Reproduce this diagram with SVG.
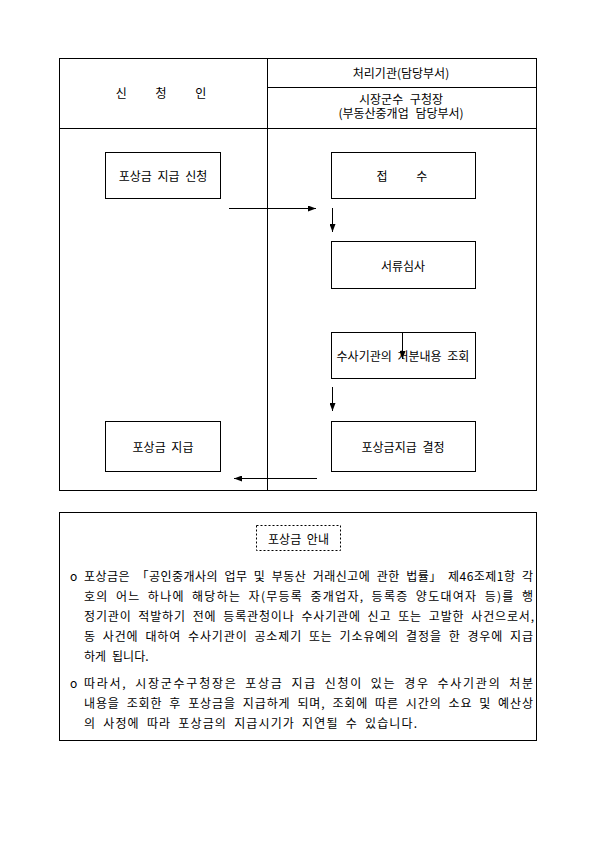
<svg xmlns="http://www.w3.org/2000/svg" width="595" height="842" viewBox="0 0 595 842">
<defs>
<style>
text{font-family:"Noto Sans CJK KR","Noto Sans",sans-serif;font-size:12px;fill:#000;dominant-baseline:central}
.c{text-anchor:middle}
.b{fill:#fff;stroke:#000;stroke-width:1}
.l{stroke:#000;stroke-width:1;fill:none}
.p{word-spacing:3.3px}
</style>
<marker id="ah" viewBox="0 0 8 6" refX="8" refY="3" markerWidth="8" markerHeight="6" orient="auto" markerUnits="userSpaceOnUse">
<path d="M0,0 L8,3 L0,6 z" fill="#000"/>
</marker>
</defs>
<rect width="595" height="842" fill="#fff"/>
<g id="table">
<rect class="b" x="59.5" y="58.5" width="477" height="432"/>
<line class="l" x1="267.5" y1="58.5" x2="267.5" y2="490.5"/>
<line class="l" x1="267.5" y1="87.5" x2="536.5" y2="87.5"/>
<line class="l" x1="59.5" y1="128.5" x2="536.5" y2="128.5"/>
<text class="c" x="161" y="92" style="word-spacing:26px">신 청 인</text>
<text class="c" x="401" y="72.5">처리기관(담당부서)</text>
<text class="c" style="word-spacing:4px"><tspan x="401" y="98">시장군수 구청장</tspan><tspan x="401" y="112">(부동산중개업 담당부서)</tspan></text>
</g>
<g id="n1"><rect class="b" x="105.5" y="152.5" width="115" height="46"/><text class="c" x="163" y="175.5" style="word-spacing:3px">포상금 지급 신청</text></g>
<g id="n2"><rect class="b" x="331.5" y="152.5" width="144" height="46"/><text class="c" x="402" y="175.5" style="word-spacing:26px">접 수</text></g>
<g id="n3"><rect class="b" x="331.5" y="241.5" width="144" height="47"/><text class="c" x="403" y="265">서류심사</text></g>
<g id="n4"><rect class="b" x="331.5" y="332.5" width="144" height="46"/><text class="c" x="403" y="355.5" style="word-spacing:3px">수사기관의 처분내용 조회</text></g>
<g id="n5"><rect class="b" x="331.5" y="421.5" width="144" height="50"/><text class="c" x="403" y="446" style="word-spacing:3px">포상금지급 결정</text></g>
<g id="n6"><rect class="b" x="105.5" y="421.5" width="115" height="50"/><text class="c" x="163" y="446" style="word-spacing:3px">포상금 지급</text></g>
<g id="connectors">
<line class="l" x1="229" y1="208.5" x2="316" y2="208.5" marker-end="url(#ah)"/>
<line class="l" x1="332.5" y1="208" x2="332.5" y2="232" marker-end="url(#ah)"/>
<line class="l" x1="402.5" y1="332" x2="402.5" y2="359" marker-end="url(#ah)"/>
<line class="l" x1="332.5" y1="387" x2="332.5" y2="411" marker-end="url(#ah)"/>
<line class="l" x1="317" y1="478.5" x2="234" y2="478.5" marker-end="url(#ah)"/>
</g>
<g id="notice">
<rect class="b" x="59.5" y="512.5" width="477" height="228"/>
<rect x="256.5" y="525.5" width="84" height="25" fill="none" stroke="#000" stroke-width="1" stroke-dasharray="2 2"/>
<text class="c" x="298.5" y="538" style="word-spacing:3px">포상금 안내</text>
<text x="70" y="575.5">o</text>
<text class="p" x="84" y="575.5" textLength="449" lengthAdjust="spacing">포상금은 「공인중개사의 업무 및 부동산 거래신고에 관한 법률」 제46조제1항 각</text>
<text class="p" x="84" y="595.5" textLength="449" lengthAdjust="spacing">호의 어느 하나에 해당하는 자(무등록 중개업자, 등록증 양도대여자 등)를 행</text>
<text class="p" x="84" y="615.5" textLength="450" lengthAdjust="spacing">정기관이 적발하기 전에 등록관청이나 수사기관에 신고 또는 고발한 사건으로서,</text>
<text class="p" x="84" y="635.5" textLength="449" lengthAdjust="spacing">동 사건에 대하여 수사기관이 공소제기 또는 기소유예의 결정을 한 경우에 지급</text>
<text class="p" x="84" y="655.5">하게 됩니다.</text>
<text x="70" y="682">o</text>
<text class="p" x="84" y="682" textLength="449" lengthAdjust="spacing">따라서, 시장군수구청장은 포상금 지급 신청이 있는 경우 수사기관의 처분</text>
<text class="p" x="84" y="702.5" textLength="449" lengthAdjust="spacing">내용을 조회한 후 포상금을 지급하게 되며, 조회에 따른 시간의 소요 및 예산상</text>
<text class="p" x="84" y="722.5" textLength="333" lengthAdjust="spacing">의 사정에 따라 포상금의 지급시기가 지연될 수 있습니다.</text>
</g>
</svg>
